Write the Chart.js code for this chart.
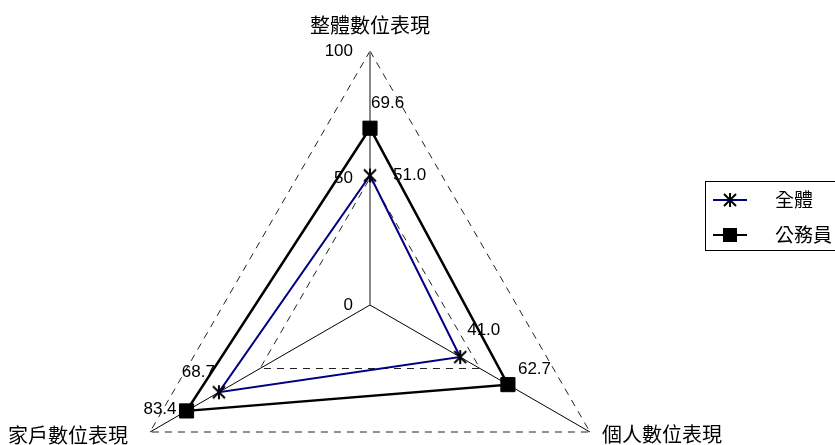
<!DOCTYPE html>
<html>
<head>
<meta charset="utf-8">
<script src="https://cdn.jsdelivr.net/npm/chart.js@4/dist/chart.umd.min.js"></script>
<style>
  html, body { margin:0; padding:0; background:#fff; overflow:hidden; }
  #wrap { width:835px; height:445px; position:relative; overflow:hidden; }
  #radar { position:absolute; left:0; top:0; }
</style>
</head>
<body>
<div id="wrap"><canvas id="radar" width="835" height="559"></canvas></div>
<script>
// ===== DATA =====
const AXES = ["整體數位表現", "個人數位表現", "家戶數位表現"];
const SERIES = ["全體", "公務員"];
const ALL_VALUES = [51.0, 41.0, 68.7];
const CIVIL_VALUES = [69.6, 62.7, 83.4];
const TICKS = [0, 50, 100];

// label placement next to each point (dx, dy, align)
const ALL_LABEL_POS = [[23, 0, "left"], [7, -27, "left"], [-4, -20, "right"]];
const CIVIL_LABEL_POS = [[1, -25, "left"], [10, -15, "left"], [-10, -2, "right"]];

const NUM_FONT = "17px 'Liberation Sans', Arial, sans-serif";
const CJK_FONT = "20px 'Noto Sans CJK TC', sans-serif";
const LEGEND_FONT = "19px 'Noto Sans CJK TC', sans-serif";

// asterisk marker (X + vertical bar)
function makeStar(){
  const c = document.createElement("canvas");
  c.width = 16; c.height = 16;
  const g = c.getContext("2d");
  g.strokeStyle = "#000"; g.lineWidth = 2;
  g.beginPath();
  g.moveTo(2,2); g.lineTo(14,14);
  g.moveTo(14,2); g.lineTo(2,14);
  g.moveTo(8,1); g.lineTo(8,15);
  g.stroke();
  return c;
}
const starImg = makeStar();

// ===== custom texts: ticks, axis names, value labels, legend =====
const textPlugin = {
  id: "texts",
  afterDatasetsDraw(chart){
    const ctx = chart.ctx;
    const r = chart.scales.r;
    ctx.save();
    ctx.fillStyle = "#000";

    // tick labels, left of the top axis
    ctx.font = NUM_FONT;
    ctx.textAlign = "right";
    ctx.textBaseline = "middle";
    TICKS.forEach(t => {
      const y = r.yCenter - r.getDistanceFromCenterForValue(t);
      ctx.fillText(String(t), r.xCenter - 17, y);
    });

    // axis names
    ctx.font = CJK_FONT;
    const outer = r.getDistanceFromCenterForValue(100);
    const p0 = r.getPointPosition(0, outer);
    ctx.textAlign = "center"; ctx.textBaseline = "middle";
    ctx.fillText(AXES[0], p0.x, p0.y - 26);
    const p1 = r.getPointPosition(1, outer);
    ctx.textAlign = "left";
    ctx.fillText(AXES[1], p1.x + 12, p1.y + 2);
    const p2 = r.getPointPosition(2, outer);
    ctx.textAlign = "right";
    ctx.fillText(AXES[2], p2.x - 22, p2.y + 3);

    // value labels
    ctx.font = NUM_FONT;
    ctx.textBaseline = "middle";
    [[ALL_VALUES, ALL_LABEL_POS], [CIVIL_VALUES, CIVIL_LABEL_POS]].forEach(([vals, pos]) => {
      vals.forEach((v, i) => {
        const p = r.getPointPosition(i, r.getDistanceFromCenterForValue(v));
        ctx.textAlign = pos[i][2];
        ctx.fillText(v.toFixed(1), p.x + pos[i][0], p.y + pos[i][1]);
      });
    });
    ctx.restore();
  },
  afterDraw(chart){
    const ctx = chart.ctx;
    ctx.save();
    // legend box
    ctx.strokeStyle = "#000"; ctx.lineWidth = 1;
    ctx.strokeRect(705.5, 181.5, 140, 69);
    const rows = [200, 235];
    const cols = ["#000080", "#000000"];
    SERIES.forEach((name, i) => {
      const y = rows[i];
      ctx.strokeStyle = cols[i]; ctx.lineWidth = 2;
      ctx.beginPath(); ctx.moveTo(713, y); ctx.lineTo(747, y); ctx.stroke();
      if (i === 0) ctx.drawImage(starImg, 730 - 8, y - 8);
      else { ctx.fillStyle = "#000"; ctx.fillRect(723, y - 7, 14, 14); }
      ctx.fillStyle = "#000";
      ctx.font = LEGEND_FONT; ctx.textAlign = "left"; ctx.textBaseline = "middle";
      ctx.fillText(name, 775, y);
    });
    ctx.restore();
  }
};

// ===== CHART =====
new Chart(document.getElementById("radar").getContext("2d"), {
  type: "radar",
  data: {
    labels: AXES,
    datasets: [
      {
        label: SERIES[0], data: ALL_VALUES,
        borderColor: "#000080", borderWidth: 2, fill: false, tension: 0,
        pointStyle: starImg, pointRadius: 8
      },
      {
        label: SERIES[1], data: CIVIL_VALUES,
        borderColor: "#000", borderWidth: 2.5, fill: false, tension: 0,
        pointStyle: "rect", pointRadius: 10,
        pointBackgroundColor: "#000", pointBorderColor: "#000", pointBorderWidth: 1
      }
    ]
  },
  options: {
    responsive: false,
    animation: false,
    layout: { padding: { left: 116, right: 211, top: 51, bottom: 0 } },
    plugins: { legend: { display: false }, tooltip: { enabled: false } },
    scales: {
      r: {
        min: 0, max: 100,
        ticks: { display: false, stepSize: 50 },
        pointLabels: { display: false },
        grid: { circular: false, color: "#222", lineWidth: 1 },
        border: { dash: [7, 6] },
        angleLines: {
          color: ctx => ctx.index === 0 ? "#888" : "#000",
          lineWidth: ctx => ctx.index === 0 ? 2 : 1
        }
      }
    }
  },
  plugins: [textPlugin]
});
</script>
</body>
</html>
